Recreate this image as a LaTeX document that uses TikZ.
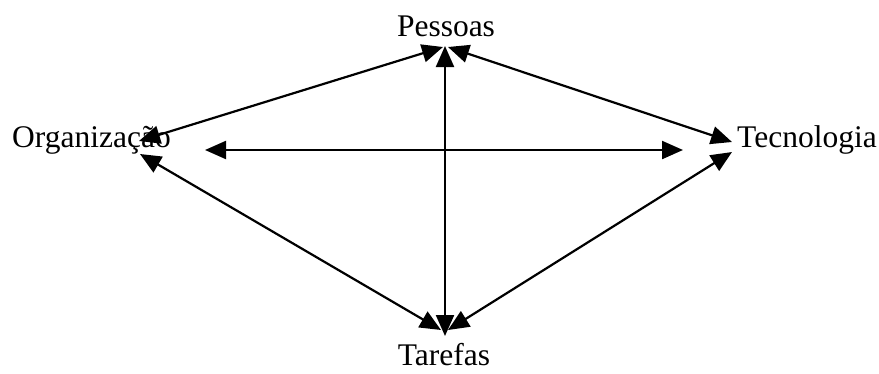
\documentclass[tikz,border=0pt]{standalone}
\usepackage{fontspec}
\setmainfont{Liberation Serif}
\usetikzlibrary{arrows.meta}
\begin{document}
\begin{tikzpicture}[x=1pt,y=-1pt,
  lbl/.style={font=\fontsize{31.5}{31.5}\selectfont, inner sep=0pt},
  link/.style={line width=2.2pt, {Triangle[length=21pt,width=18pt]}-{Triangle[length=21pt,width=18pt]}}]
\useasboundingbox (0,0) rectangle (879,373);
\node[lbl, anchor=base] (p) at (446,36) {Pessoas};
\node[lbl, anchor=base west] (o) at (12,147) {Organização};
\node[lbl, anchor=base west] (t) at (737,147) {Tecnologia};
\node[lbl, anchor=base] (f) at (444,365) {Tarefas};
\coordinate (pL) at (443,47);
\coordinate (pC) at (445,46);
\coordinate (pR) at (448,47);
\coordinate (fL) at (441,330);
\coordinate (fC) at (445,336);
\coordinate (fR) at (448,330);
\coordinate (oU) at (139,141);
\coordinate (oL) at (140,154);
\coordinate (tU) at (732,142);
\coordinate (tL) at (732,152);
\coordinate (hL) at (205,150);
\coordinate (hR) at (683,150);
\draw[link] (oU) -- (pL);
\draw[link] (pR) -- (tU);
\draw[link] (oL) -- (fL);
\draw[link] (fR) -- (tL);
\draw[link] (pC) -- (fC);
\draw[link] (hL) -- (hR);
\end{tikzpicture}
\end{document}
